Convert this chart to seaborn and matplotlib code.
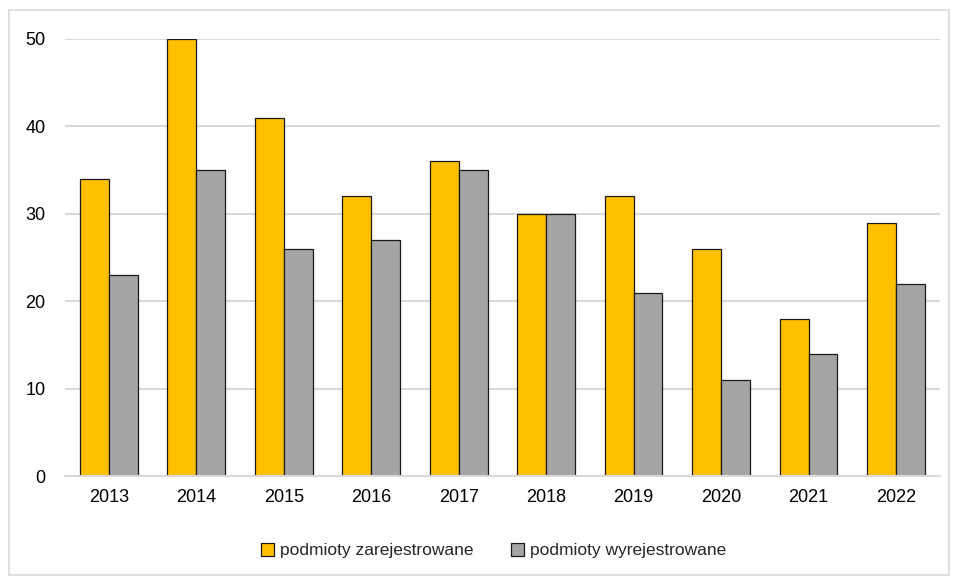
import pandas as pd
import seaborn as sns
import matplotlib.pyplot as plt
from matplotlib.patches import Rectangle

# dane
lata = ["2013", "2014", "2015", "2016", "2017", "2018", "2019", "2020", "2021", "2022"]
zarejestrowane = [34, 50, 41, 32, 36, 30, 32, 26, 18, 29]
wyrejestrowane = [23, 35, 26, 27, 35, 30, 21, 11, 14, 22]
serie = ["podmioty zarejestrowane", "podmioty wyrejestrowane"]

df = pd.DataFrame({
    "rok": lata * 2,
    "liczba": zarejestrowane + wyrejestrowane,
    "seria": [serie[0]] * len(lata) + [serie[1]] * len(lata),
})

sns.set_style("white")
plt.rcParams["font.family"] = ["Liberation Sans", "DejaVu Sans"]

fig = plt.figure(figsize=(9.56, 5.8), dpi=100)
ax = fig.add_axes([0.068, 0.179, 0.915, 0.754])

sns.barplot(data=df, x="rok", y="liczba", hue="seria", hue_order=serie,
            palette=["#FFC000", "#A5A5A5"], width=0.66, gap=0,
            edgecolor="#1a1a1a", linewidth=0.9, saturation=1, ax=ax)

ax.set_ylim(0, 50)
ax.set_yticks(range(0, 51, 10))
ax.yaxis.grid(True, color="#D9D9D9", linewidth=1.5)
ax.set_axisbelow(True)
for s in ["top", "right", "left"]:
    ax.spines[s].set_visible(False)
ax.spines["bottom"].set_color("#D9D9D9")
ax.spines["bottom"].set_linewidth(1.5)
ax.set_xlabel("")
ax.set_ylabel("")
ax.tick_params(axis="both", length=0, labelsize=13, colors="black")
ax.tick_params(axis="x", pad=9)
ax.tick_params(axis="y", pad=14)

ax.legend(loc="center", bbox_to_anchor=(0.49, -0.17), ncol=2, frameon=False,
          fontsize=12.5, handlelength=0.75, handleheight=0.75, handletextpad=0.3,
          columnspacing=2.2)

# ramka wokół wykresu
fig.patches.append(Rectangle((0.009, 0.008), 0.984, 0.975, transform=fig.transFigure,
                             fill=False, edgecolor="#D9D9D9", linewidth=1.2))

plt.savefig("out.png", dpi=100)
